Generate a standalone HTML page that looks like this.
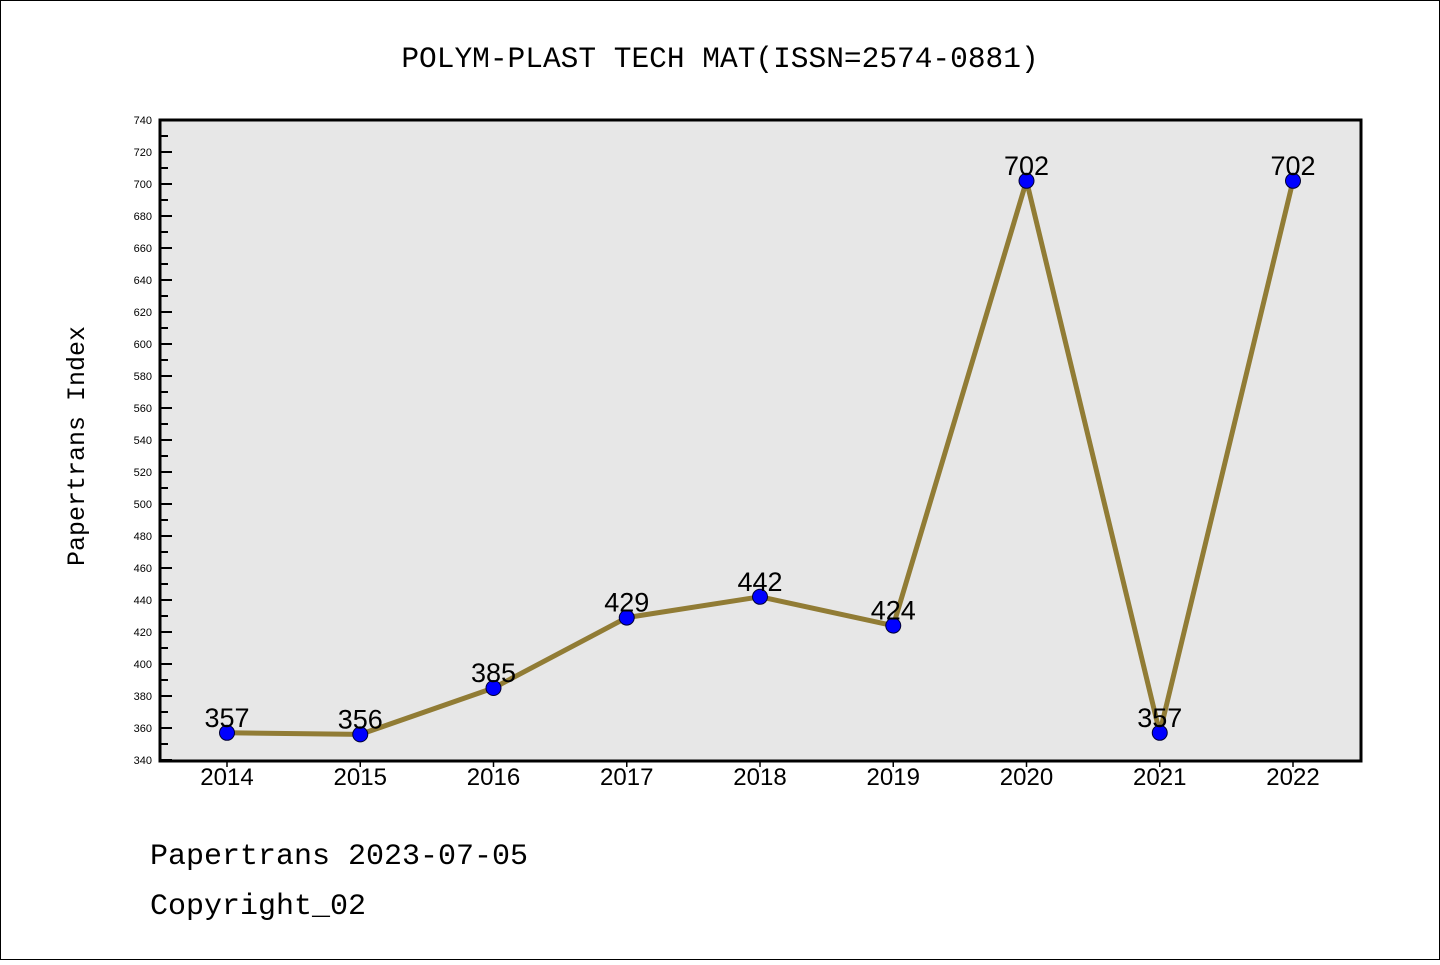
<!DOCTYPE html>
<html><head><meta charset="utf-8"><style>
body{margin:0;background:#fff}
svg text{font-family:"Liberation Sans","DejaVu Sans",sans-serif}
svg text.mono{font-family:"WenQuanYi Zen Hei Mono","Liberation Mono",monospace}
</style></head><body>
<svg id="c" width="1440" height="960" xmlns="http://www.w3.org/2000/svg">
<rect x="0.5" y="0.5" width="1439" height="959" fill="#fff" stroke="#000"/>
<text class="mono" x="720" y="67" text-anchor="middle" font-size="29.5">POLYM-PLAST TECH MAT(ISSN=2574-0881)</text>
<rect x="160" y="120" width="1201" height="641" fill="#e7e7e7"/>
<g id="axes"></g>
<g id="marks"></g>
<rect x="160" y="120" width="1201" height="641" fill="none" stroke="#000" stroke-width="3"/>
<text class="mono" transform="translate(84,446) rotate(-90)" text-anchor="middle" font-size="25">Papertrans Index</text>
<text class="mono" x="150" y="864" font-size="30">Papertrans 2023-07-05</text>
<text class="mono" x="150" y="914" font-size="30">Copyright_02</text>
</svg>
<script>
const years=["2014","2015","2016","2017","2018","2019","2020","2021","2022"];
const values=[357,356,385,429,442,424,702,357,702];
const yTicks=[340,360,380,400,420,440,460,480,500,520,540,560,580,600,620,640,660,680,700,720,740];
const NS="http://www.w3.org/2000/svg";
const yMin=340,yMax=740,plotTop=120,plotBot=760;
const yS=v=>plotBot-(v-yMin)/(yMax-yMin)*(plotBot-plotTop);
const xS=i=>227+i*(1293-227)/(years.length-1);
function mk(t,a,p){const e=document.createElementNS(NS,t);for(const k in a)e.setAttribute(k,a[k]);(p||document.getElementById('axes')).appendChild(e);return e;}
const mg=document.getElementById('marks');
yTicks.forEach(v=>{
 const l=mk('line',{x1:160,x2:172,y1:yS(v),y2:yS(v),stroke:'#000','stroke-width':2});
 
 
 const t=mk('text',{x:152,y:yS(v)+4,'text-anchor':'end','font-size':11});
 t.textContent=v;
 
 
});
for(let i=0;i<yTicks.length-1;i++){
 const v=(yTicks[i]+yTicks[i+1])/2;
 const l=mk('line',{x1:160,x2:168,y1:yS(v),y2:yS(v),stroke:'#000','stroke-width':2});
 
 
}
years.forEach((yr,i)=>{
 const l=mk('line',{x1:xS(i),x2:xS(i),y1:761,y2:767,stroke:'#000','stroke-width':1.5});
 
 
 const t=mk('text',{x:xS(i),y:785,'text-anchor':'middle','font-size':24});
 t.textContent=yr;
 
 
});
const pl=mk('polyline',{points:values.map((v,i)=>xS(i)+','+yS(v)).join(' '),fill:'none',stroke:'#917c35','stroke-width':5,'stroke-linejoin':'round'},mg);


values.forEach((v,i)=>{
 const c=mk('circle',{cx:xS(i),cy:yS(v),r:7.5,fill:'#0000ff',stroke:'#000033','stroke-width':1},mg);
 
 
 const t=mk('text',{x:xS(i),y:yS(v)-6,'text-anchor':'middle','font-size':27},mg);
 t.textContent=v;
 
 
});
</script>
</body></html>
